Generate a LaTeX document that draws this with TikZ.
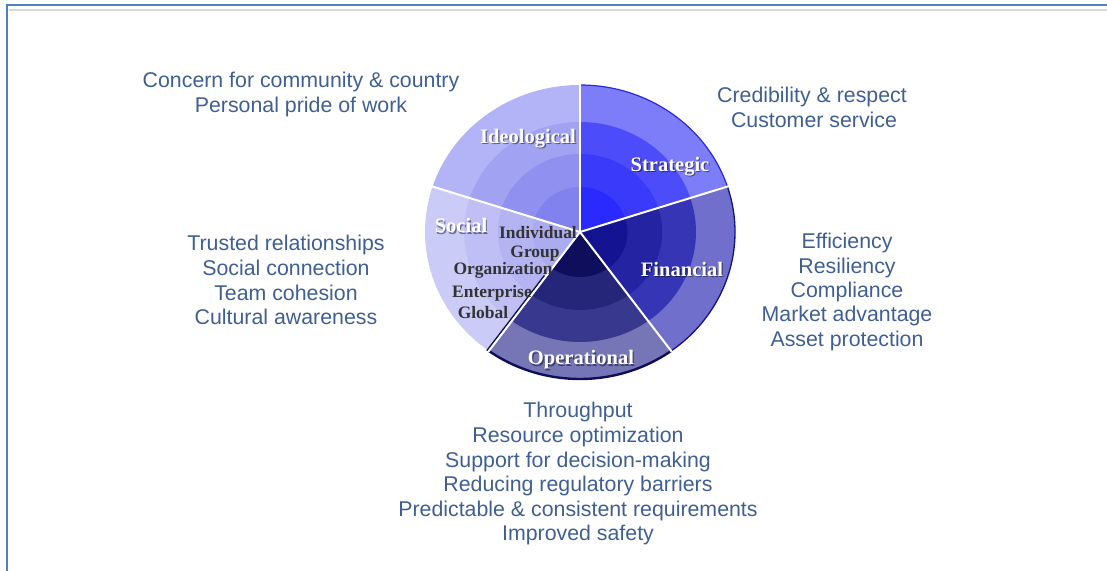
\documentclass[tikz,border=0pt]{standalone}
\usepackage{fontspec}
\usetikzlibrary{calc}
\setmainfont{Liberation Serif}
\newfontfamily\arialfont{Liberation Sans}
\definecolor{txtblue}{HTML}{3F5F94}
\definecolor{framblue}{HTML}{4F81BD}
\definecolor{framgray}{HTML}{D8D8D8}
\definecolor{ringgray}{HTML}{333333}
\definecolor{IA}{HTML}{B3B3F7}\definecolor{IB}{HTML}{A2A2F3}\definecolor{IC}{HTML}{9090F0}\definecolor{ID}{HTML}{8282EE}
\definecolor{SA}{HTML}{7D7DFA}\definecolor{SB}{HTML}{4C4CFA}\definecolor{SC}{HTML}{3A3AFA}\definecolor{SD}{HTML}{2A2AFF}
\definecolor{CA}{HTML}{CBCBF8}\definecolor{CB}{HTML}{BFBFF5}\definecolor{CC}{HTML}{B4B4F3}\definecolor{CD}{HTML}{ABABF0}
\definecolor{OA}{HTML}{7676B6}\definecolor{OB}{HTML}{38388F}\definecolor{OC}{HTML}{25257A}\definecolor{OD}{HTML}{0E0E5C}
\definecolor{FA}{HTML}{7070CC}\definecolor{FB}{HTML}{3535B5}\definecolor{FC}{HTML}{2424A2}\definecolor{FD}{HTML}{141492}
\definecolor{SE}{HTML}{2828E0}
\tikzset{
  outtext/.style={font=\arialfont\fontsize{16}{18}\selectfont, text=txtblue, inner sep=0pt, anchor=base},
  seclabel/.style={font=\bfseries\fontsize{15.4}{16}\selectfont, text=white, inner sep=0pt, anchor=base},
  secshadow/.style={font=\bfseries\fontsize{15.4}{16}\selectfont, text=black, opacity=0.45, inner sep=0pt, anchor=base},
  ringlabel/.style={font=\bfseries\fontsize{13.1}{14}\selectfont, text=ringgray, inner sep=0pt, anchor=base},
  sepline/.style={white, line width=1.5pt},
  frameline/.style={framblue, line width=1.5pt},
}
\begin{document}
\begin{tikzpicture}[x=0.75pt, y=0.75pt]
\useasboundingbox (0,0) rectangle (1107,571);
% frame
\coordinate (ftl) at (7,565.5);
\coordinate (ftr) at (1107,565.5);
\coordinate (fbl) at (7,0);
\coordinate (gl) at (8.5,561);
\coordinate (gr) at (1107,561);
\draw[framgray, line width=1.5pt] (gl) -- (gr);
\draw[frameline] (fbl) -- (ftl) -- (ftr);
% wheel
\begin{scope}[shift={(580,339)}, xscale=1.0544]
  \coordinate (hub) at (0,0);
  \foreach \a/\ca/\cb/\cc/\cd in {18/SA/SB/SC/SD, 90/IA/IB/IC/ID, 162/CA/CB/CC/CD, 234/OA/OB/OC/OD, 306/FA/FB/FC/FD}{
    \fill[\ca] (hub) -- (\a:147) arc[start angle=\a, delta angle=72, radius=147] -- cycle;
    \fill[\cb] (hub) -- (\a:110) arc[start angle=\a, delta angle=72, radius=110] -- cycle;
    \fill[\cc] (hub) -- (\a:78) arc[start angle=\a, delta angle=72, radius=78] -- cycle;
    \fill[\cd] (hub) -- (\a:45) arc[start angle=\a, delta angle=72, radius=45] -- cycle;
  }
  \draw[draw=SE, line width=0.9pt] (18:147) arc[start angle=18, end angle=90, radius=147];
  \draw[draw=FD, line width=1pt] (-54:147) arc[start angle=-54, end angle=18, radius=147];
  \draw[draw=OD, line width=1.8pt] (234:147) arc[start angle=234, end angle=306, radius=147];
  \draw[draw=OD, line width=1.2pt] ($(234:55)+(-1.3,1)$) -- ($(234:148)+(-1.3,1)$);
  \foreach \a in {18,90,162,234,306}{
    \draw[sepline] (hub) -- (\a:148);
  }
\end{scope}
% sector labels
\foreach \n/\x/\y/\t in {ideo/528/427.7/Ideological, strat/670/399.3/Strategic, soc/461/338/Social, fin/682/294.3/Financial, oper/581/206/Operational}{
  \node[secshadow] (\n s) at (\x+1.2,\y-1.2) {\t};
  \node[seclabel] (\n) at (\x,\y) {\t};
}
% ring labels
\foreach \n/\x/\y/\t in {indiv/538/332.7/Individual, grp/535/313.7/Group, org/503/296/Organization, ent/492/273.7/Enterprise, glob/483/252.7/Global}{
  \node[ringlabel] (\n) at (\x,\y) {\t};
}
% outer texts
\node[outtext] (tl1) at (301,483) {Concern for community \& country};
\node[outtext] (tl2) at (301,458.5) {Personal pride of work};
\node[outtext] (tr1) at (812,468) {Credibility \& respect};
\node[outtext] (tr2) at (814,443) {Customer service};
\foreach \t [count=\i] in {Trusted relationships, Social connection, Team cohesion, Cultural awareness}{
  \node[outtext] (l\i) at (286,{320-24.6*(\i-1)}) {\t};
}
\foreach \t [count=\i] in {Efficiency, Resiliency, Compliance, Market advantage, Asset protection}{
  \node[outtext] (r\i) at (847,{322-24.3*(\i-1)}) {\t};
}
\foreach \t [count=\i] in {Throughput, Resource optimization, Support for decision-making, Reducing regulatory barriers, Predictable \& consistent requirements, Improved safety}{
  \node[outtext] (b\i) at (578,{153-24.6*(\i-1)}) {\t};
}
\end{tikzpicture}
\end{document}
